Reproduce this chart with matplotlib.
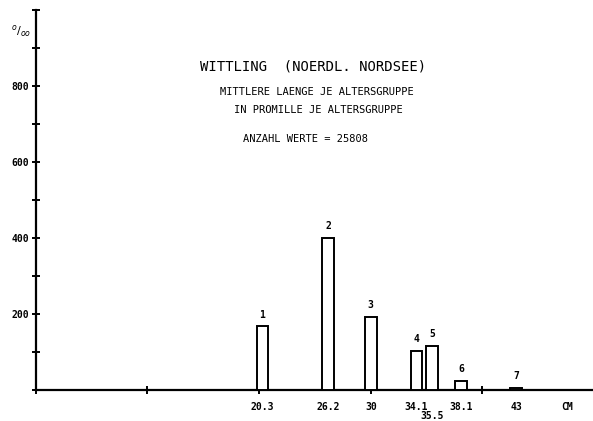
import matplotlib.pyplot as plt
import numpy as np

# mean length per age group (cm) and share per age group (per mille)
age_groups = ["1", "2", "3", "4", "5", "6", "7"]
mean_length = [20.3, 26.2, 30.0, 34.1, 35.5, 38.1, 43.0]
length_labels = ["20.3", "26.2", "30", "34.1", "35.5", "38.1", "43"]
promille = [166, 400, 191, 102, 114, 23, 4]

y_ticks = np.arange(0, 1001, 100)
y_labels = ["", "", "200", "", "400", "", "600", "", "800", "", ""]

plt.rcParams['font.family'] = ['DejaVu Sans Mono']

fig = plt.figure(figsize=(5.93, 4.21), dpi=100)
ax = fig.add_axes([0.0602, 0.0748, 0.938, 0.9026])

ax.bar(mean_length, promille, width=1.05, facecolor='white',
       edgecolor='black', linewidth=1.4, zorder=3)

# group number above each bar, mean length below the axis
for i in range(len(age_groups)):
    ax.text(mean_length[i], promille[i] + 18, age_groups[i],
            ha='center', va='bottom', fontsize=7, fontweight='bold')
    y_off = -57 if length_labels[i] == "35.5" else -32
    ax.text(mean_length[i], y_off, length_labels[i],
            ha='center', va='top', fontsize=7, fontweight='bold', clip_on=False)

ax.text(47.6, -32, "CM", ha='center', va='top', fontsize=7, fontweight='bold')

ax.set_xlim(0, 49.8)
ax.set_ylim(0, 1000)
ax.set_xticks([0, 10, 20, 30, 40])
ax.set_xticklabels([])
ax.set_yticks(y_ticks)
ax.set_yticklabels(y_labels, fontsize=7, fontweight='bold')

for side in ['top', 'right']:
    ax.spines[side].set_visible(False)
for side in ['left', 'bottom']:
    ax.spines[side].set_linewidth(1.6)
ax.tick_params(direction='inout', length=5.5, width=1.4, pad=2)

# per mille unit at the top of the y axis
fig.text(0.036, 0.926, r"$^{o}/_{oo}$", ha='center', va='center', fontsize=8)

# heading block
fig.text(0.528, 0.843, "WITTLING  (NOERDL. NORDSEE)", ha='center', va='center', fontsize=10)
fig.text(0.535, 0.781, "MITTLERE LAENGE JE ALTERSGRUPPE", ha='center', va='center', fontsize=7.5)
fig.text(0.537, 0.739, "IN PROMILLE JE ALTERSGRUPPE", ha='center', va='center', fontsize=7.5)
fig.text(0.515, 0.670, "ANZAHL WERTE = 25808", ha='center', va='center', fontsize=7.5)

fig.savefig("out.png", dpi=100)
